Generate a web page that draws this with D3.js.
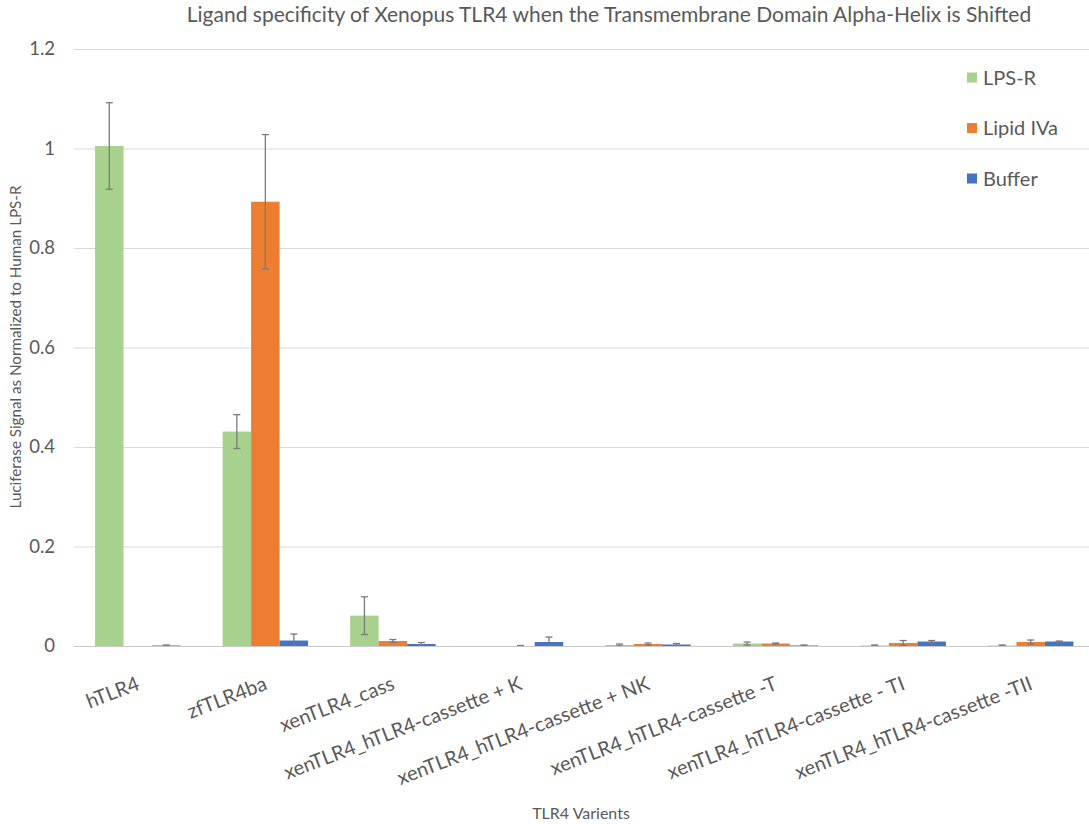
<!DOCTYPE html>
<html>
<head>
<meta charset="utf-8">
<script src="https://cdn.jsdelivr.net/npm/d3@7"></script>
<style>
  html, body { margin: 0; padding: 0; background: #ffffff; }
  svg { display: block; }
  text { font-family: Lato, "Open Sans", sans-serif; fill: #595959; }
</style>
</head>
<body>
<svg id="chart" width="1089" height="824"></svg>
<script>
// TLR4 variants tested
const categories = [
  "hTLR4",
  "zfTLR4ba",
  "xenTLR4_cass",
  "xenTLR4_hTLR4-cassette + K",
  "xenTLR4_hTLR4-cassette + NK",
  "xenTLR4_hTLR4-cassette -T",
  "xenTLR4_hTLR4-cassette - TI",
  "xenTLR4_hTLR4-cassette -TII"
];

const seriesNames = ["LPS-R", "Lipid IVa", "Buffer"];
const seriesColors = ["#a9d18e", "#ed7d31", "#4472c4"];

// Mean luciferase signal, normalized to human LPS-R
const lpsR     = [1.005, 0.431, 0.061, 0.000, 0.002, 0.005, 0.001, 0.001];
const lipidIVa = [0.000, 0.893, 0.010, 0.000, 0.004, 0.005, 0.006, 0.008];
const buffer   = [0.001, 0.011, 0.004, 0.008, 0.003, 0.001, 0.009, 0.009];

// Error (± amount) for each mean
const lpsRErr     = [0.087, 0.034, 0.038, 0.000, 0.002, 0.003, 0.001, 0.001];
const lipidIVaErr = [0.000, 0.135, 0.003, 0.001, 0.002, 0.001, 0.005, 0.004];
const bufferErr   = [0.001, 0.013, 0.003, 0.010, 0.002, 0.001, 0.002, 0.001];

const yTicks = [0, 0.2, 0.4, 0.6, 0.8, 1, 1.2];

const seriesValues = [lpsR, lipidIVa, buffer];
const seriesErrors = [lpsRErr, lipidIVaErr, bufferErr];

const svg = d3.select("#chart");

const plot = { left: 74, right: 1094.5, top: 49, bottom: 646 };

const x0 = d3.scaleBand()
  .domain(categories)
  .range([plot.left, plot.right])
  .paddingInner(0.33)
  .paddingOuter(0.165);

const x1 = d3.scaleBand()
  .domain(seriesNames)
  .range([0, x0.bandwidth()])
  .padding(0);

const y = d3.scaleLinear()
  .domain([0, 1.2])
  .range([plot.bottom, plot.top]);

// Horizontal gridlines
svg.append("g")
  .selectAll("line")
  .data(yTicks.filter(d => d > 0))
  .join("line")
  .attr("x1", plot.left)
  .attr("x2", 1089)
  .attr("y1", d => y(d) + 0.5)
  .attr("y2", d => y(d) + 0.5)
  .attr("stroke", "#d9d9d9")
  .attr("stroke-width", 1);

// Y axis tick labels
const yAxis = d3.axisLeft(y)
  .tickValues(yTicks)
  .tickSize(0)
  .tickPadding(0)
  .tickFormat(d => d3.format("")(Math.round(d * 10) / 10));

const yG = svg.append("g")
  .attr("transform", `translate(55,0)`)
  .call(yAxis);
yG.select(".domain").remove();
yG.selectAll("text")
  .attr("font-size", 18.5)
  .attr("fill", "#595959")
  .style("font-family", "Lato, 'Open Sans', sans-serif");

// Bars
const groups = svg.append("g")
  .selectAll("g")
  .data(categories)
  .join("g")
  .attr("transform", d => `translate(${x0(d)},0)`);

seriesNames.forEach((name, si) => {
  groups.append("rect")
    .attr("x", x1(name))
    .attr("width", x1.bandwidth())
    .attr("y", (d, i) => y(seriesValues[si][i]))
    .attr("height", (d, i) => y(0) - y(seriesValues[si][i]))
    .attr("fill", seriesColors[si]);
});

// Category axis line
svg.append("line")
  .attr("x1", plot.left)
  .attr("x2", 1089)
  .attr("y1", y(0) + 0.5)
  .attr("y2", y(0) + 0.5)
  .attr("stroke", "#c9c9c9")
  .attr("stroke-width", 1);

// Error bars (skipped where no error was recorded)
const capHalf = 3.5;
seriesNames.forEach((name, si) => {
  const eg = groups.append("g");
  eg.each(function (d, i) {
    const v = seriesValues[si][i];
    const e = seriesErrors[si][i];
    if (e <= 0) return;
    const cx = x1(name) + x1.bandwidth() / 2;
    const yTop = y(v + e);
    const yBot = y(Math.max(0, v - e));
    const g = d3.select(this);
    g.append("line")
      .attr("x1", cx).attr("x2", cx)
      .attr("y1", yTop).attr("y2", yBot)
      .attr("stroke", "#7a7a7a").attr("stroke-width", 1.3);
    g.append("line")
      .attr("x1", cx - capHalf).attr("x2", cx + capHalf)
      .attr("y1", yTop).attr("y2", yTop)
      .attr("stroke", "#7a7a7a").attr("stroke-width", 1.3);
    g.append("line")
      .attr("x1", cx - capHalf).attr("x2", cx + capHalf)
      .attr("y1", yBot).attr("y2", yBot)
      .attr("stroke", "#7a7a7a").attr("stroke-width", 1.3);
  });
});

// Category labels, rotated
svg.append("g")
  .selectAll("text")
  .data(categories)
  .join("text")
  .attr("transform", d => `translate(${x0(d) + x0.bandwidth() / 2 + 3},689) rotate(-21)`)
  .attr("text-anchor", "end")
  .attr("font-size", 20)
  .text(d => d);

// Title
svg.append("text")
  .attr("x", 609)
  .attr("y", 22)
  .attr("text-anchor", "middle")
  .attr("font-size", 21)
  .text("Ligand specificity of Xenopus TLR4 when the Transmembrane Domain Alpha-Helix is Shifted");

// Axis titles
svg.append("text")
  .attr("transform", "translate(21,347) rotate(-90)")
  .attr("text-anchor", "middle")
  .attr("font-size", 15.2)
  .text("Luciferase Signal as Normalized to Human LPS-R");

svg.append("text")
  .attr("x", 581)
  .attr("y", 819)
  .attr("text-anchor", "middle")
  .attr("font-size", 16)
  .text("TLR4 Varients");

// Legend
const legend = svg.append("g")
  .selectAll("g")
  .data(seriesNames)
  .join("g")
  .attr("transform", (d, i) => `translate(967,${77.5 + i * 50.5})`);

legend.append("rect")
  .attr("x", 0).attr("y", -5)
  .attr("width", 10).attr("height", 10)
  .attr("fill", (d, i) => seriesColors[i]);

legend.append("text")
  .attr("x", 16)
  .attr("y", 7)
  .attr("font-size", 20)
  .text(d => d);
</script>
</body>
</html>
